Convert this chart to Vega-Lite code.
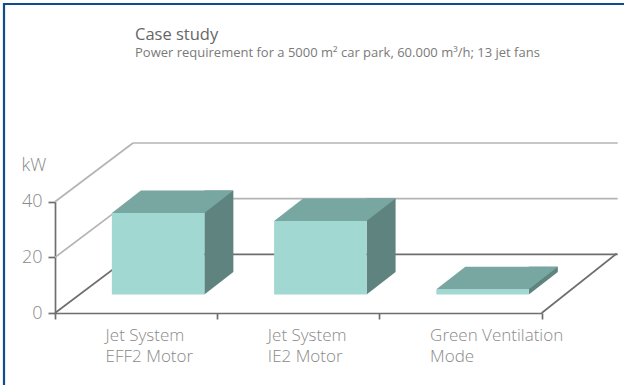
{
  "$schema": "https://vega.github.io/schema/vega-lite/v6.json",
  "width": 620,
  "height": 381,
  "autosize": "none",
  "padding": {"left": 4, "top": 4, "right": 0, "bottom": 0},
  "background": "white",
  "title": {
    "text": "Case study",
    "subtitle": "Power requirement for a 5000 m² car park, 60.000 m³/h; 13 jet fans",
    "anchor": "start",
    "frame": "group",
    "dx": 131,
    "dy": 60,
    "font": "Open Sans",
    "fontSize": 16.5,
    "fontWeight": 500,
    "color": "#666666",
    "subtitleFont": "Open Sans",
    "subtitleFontSize": 13,
    "subtitleColor": "#7a7a7a",
    "subtitlePadding": 4
  },
  "datasets": {
    "bars": [
      {"system": "Jet System EFF2 Motor", "kW": 29.3},
      {"system": "Jet System IE2 Motor", "kW": 26.4},
      {"system": "Green Ventilation Mode", "kW": 1.9}
    ],
    "levels": [
      {"v": 0, "kind": "floor"},
      {"v": 20, "kind": "grid"},
      {"v": 40, "kind": "grid"}
    ]
  },
  "data": {"name": "bars"},
  "encoding": {
    "x": {
      "field": "system",
      "type": "nominal",
      "sort": null,
      "scale": {"range": [51, 537.7], "paddingInner": 0, "paddingOuter": 0, "domain": ["Jet System EFF2 Motor", "Jet System IE2 Motor", "Green Ventilation Mode"]},
      "axis": {
        "title": null,
        "orient": "bottom",
        "offset": -72,
        "tickBand": "extent",
        "labelAngle": 0,
        "labelAlign": "left",
        "labelBaseline": "top",
        "labelOffset": -31,
        "labelPadding": 8,
        "labelFont": "Open Sans",
        "labelFontWeight": 300,
        "labelFontSize": 17,
        "labelLineHeight": 21,
        "labelColor": "#8a8a8a",
        "labelExpr": "datum.label == 'Green Ventilation Mode' ? ['Green Ventilation', 'Mode'] : [slice(datum.label, 0, 10), slice(datum.label, 11)]",
        "domainColor": "#6e6e6e",
        "domainWidth": 1.7,
        "tickColor": "#6e6e6e",
        "tickWidth": 1.7,
        "tickSize": 6,
        "grid": false
      }
    }
  },
  "layer": [
    {
      "data": {"name": "levels"},
      "mark": {"type": "rule", "strokeWidth": 1.7, "x2Offset": 78, "y2Offset": -58.7},
      "encoding": {
        "x": {"datum": "Jet System EFF2 Motor", "type": "nominal", "bandPosition": 0},
        "x2": {"datum": "Jet System EFF2 Motor", "bandPosition": 0},
        "y": {"field": "v", "type": "quantitative", "scale": {"domain": [0, 40], "range": [309, 197.7]}, "axis": {
          "values": [0, 20, 40],
          "orient": "left",
          "offset": -51,
          "title": "kW",
          "titleAngle": 0,
          "titleAlign": "left",
          "titleBaseline": "alphabetic",
          "titleX": -34,
          "titleY": 166,
          "titleFont": "Open Sans",
          "titleFontSize": 18,
          "titleFontWeight": 300,
          "titleColor": "#8a8a8a",
          "labelFont": "Open Sans",
          "labelFontSize": 18,
          "labelFontWeight": 300,
          "labelColor": "#8a8a8a",
          "labelPadding": 6,
          "domainColor": "#6e6e6e",
          "domainWidth": 1.7,
          "tickColor": "#6e6e6e",
          "tickWidth": 1.7,
          "tickSize": 7,
          "grid": false
        }},
        "y2": {"field": "v"},
        "color": {"field": "kind", "type": "nominal", "scale": {"domain": ["floor", "grid"], "range": ["#6e6e6e", "#b4b4b4"]}, "legend": null}
      }
    },
    {
      "data": {"name": "levels"},
      "mark": {"type": "rule", "strokeWidth": 1.7, "xOffset": 78, "x2Offset": 76, "yOffset": -58.7},
      "encoding": {
        "x": {"datum": "Jet System EFF2 Motor", "type": "nominal", "bandPosition": 0},
        "x2": {"datum": "Green Ventilation Mode", "bandPosition": 1},
        "y": {"field": "v", "type": "quantitative"},
        "color": {"field": "kind", "type": "nominal", "legend": null}
      }
    },
    {
      "data": {"name": "levels"},
      "transform": [{"filter": "datum.kind == 'floor'"}],
      "mark": {"type": "rule", "strokeWidth": 1.7, "x2Offset": 75, "y2Offset": -59.5},
      "encoding": {
        "x": {"datum": "Green Ventilation Mode", "type": "nominal", "bandPosition": 1},
        "x2": {"datum": "Green Ventilation Mode", "bandPosition": 1},
        "y": {"field": "v", "type": "quantitative"},
        "y2": {"field": "v"},
        "color": {"field": "kind", "type": "nominal", "legend": null}
      }
    },
    {
      "mark": {"type": "bar", "width": 29, "xOffset": 82.75, "yOffset": -41, "y2Offset": -18.5, "color": "#5f847f", "opacity": 1},
      "encoding": {
        "y": {"field": "kW", "type": "quantitative"},
        "y2": {"datum": 0}
      }
    },
    {
      "mark": {"type": "point", "filled": true, "size": 4, "opacity": 1, "strokeWidth": 0, "color": "white", "xOffset": 22, "yOffset": -18.5, "shape": "M46.25,0L75.25,-22.5L77.5,-22.5L77.5,1.5L46.25,1.5Z"},
      "encoding": {
        "y": {"datum": 0, "type": "quantitative"}
      }
    },
    {
      "mark": {"type": "bar", "width": 92.5, "xOffset": 22, "yOffset": -18.5, "y2Offset": -18.5, "color": "#a2d8d2", "opacity": 1},
      "encoding": {
        "y": {"field": "kW", "type": "quantitative"},
        "y2": {"datum": 0}
      }
    },
    {
      "mark": {"type": "point", "filled": true, "size": 4, "opacity": 1, "strokeWidth": 0, "color": "#78a6a1", "xOffset": 22, "yOffset": -18.5, "shape": "M-46.25,0L46.25,0L75.25,-22.5L-17.25,-22.5Z"},
      "encoding": {
        "y": {"field": "kW", "type": "quantitative"}
      }
    }
  ],
  "config": {
    "font": "Open Sans",
    "view": {"fill": "white", "stroke": "#0b4d8e", "strokeWidth": 2.2, "strokeDash": [620, 1001, 381, 20]}
  }
}
